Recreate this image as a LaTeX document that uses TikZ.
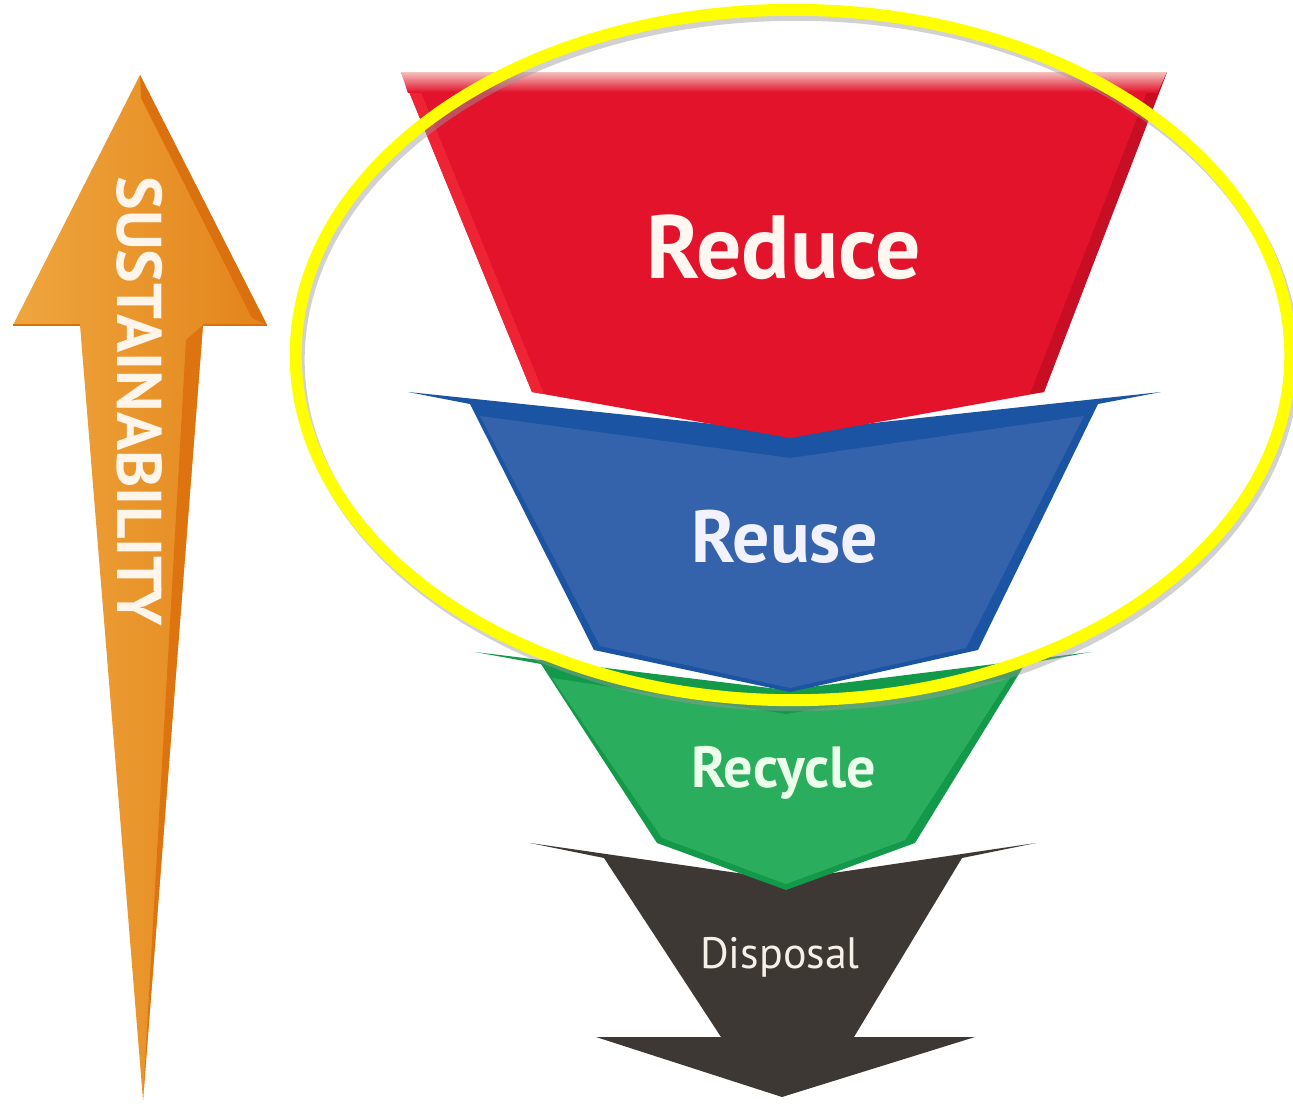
\documentclass[tikz,border=0pt]{standalone}
\usepackage{fontspec}
\setmainfont{PT Sans}
\begin{document}
\begin{tikzpicture}[x=0.01cm,y=-0.01cm,
  lbl/.style={inner sep=0pt, anchor=center}]
\definecolor{redmain}{HTML}{E3132C}
\definecolor{redlight}{HTML}{EE2435}
\definecolor{reddark}{HTML}{C70E24}
\definecolor{redpink}{HTML}{F6D2CC}
\definecolor{bluemain}{HTML}{3463AC}
\definecolor{bluedark}{HTML}{1B54A3}
\definecolor{greenmain}{HTML}{2BAD5E}
\definecolor{greendark}{HTML}{12994A}
\definecolor{graymain}{HTML}{3E3834}
\definecolor{oralight}{HTML}{EEA63E}
\definecolor{oradark}{HTML}{E3841A}
\definecolor{oradeep}{HTML}{DB700E}
\definecolor{ylw}{HTML}{FFFF00}
\useasboundingbox (0,0) rectangle (1293,1106);
\fill[white] (0,0) rectangle (1293,1106);

% --- Disposal (gray) ---
\fill[graymain] (530,843) -- (786,880) -- (1036,843) -- (962,858) -- (854,1037)
  -- (975,1037) -- (782,1097) -- (596,1037) -- (721,1037) -- (604,858) -- cycle;

% --- Recycle (green) ---
\fill[greendark] (475,652) -- (786,690) -- (1091,652) -- (1025,664) -- (915,843)
  -- (786,890) -- (657,843) -- (541,664) -- cycle;
\fill[greenmain] (552,678) -- (786,714) -- (1010,678) -- (905,840) -- (786,884)
  -- (662,838) -- cycle;

% --- Reuse (blue) ---
\fill[bluedark] (408,392) -- (790,432) -- (1161,392) -- (1098,404) -- (978,650)
  -- (790,692) -- (594,650) -- (470,404) -- cycle;
\fill[bluemain] (480,416) -- (790,458) -- (1084,416) -- (966,648) -- (790,688)
  -- (600,646) -- cycle;

% --- Reduce (red) ---
\fill[redmain] (401,72) -- (1167,72) -- (1044,392) -- (790,438) -- (532,392) -- cycle;
\fill[redlight] (401,72) -- (532,392) -- (544,394) -- (420,90) -- cycle;
\fill[reddark] (1167,72) -- (1044,392) -- (1030,394) -- (1148,90) -- cycle;
\begin{scope}
  \clip (401,72) -- (1167,72) -- (1140,130) -- (420,130) -- cycle;
  \shade[top color=redpink, bottom color=redmain] (390,70) rectangle (1180,92);
\end{scope}

% --- labels ---
\node[lbl, text=white!94!orange] (reduce) at (784,247)
  {\fontsize{25.5}{28}\selectfont\bfseries Reduce};
\node[lbl, text=white!95!blue] (reuse) at (785,537)
  {\fontsize{21}{24}\selectfont\bfseries Reuse};
\node[lbl, text=white!92!green] (recycle) at (784,773)
  {\fontsize{16.5}{19}\selectfont\bfseries Recycle};
\node[lbl, text=white!88!brown] (disposal) at (780,957)
  {\fontsize{12.5}{15}\selectfont Disposal};

% --- sustainability arrow ---
\shade[left color=oralight, right color=oradark] (140,75) -- (267,325) -- (203,325)
  -- (143,1100) -- (80,325) -- (13,325) -- cycle;
\fill[oradeep] (140,75) -- (267,325) -- (252,318) -- (141,98) -- cycle;
\fill[oradeep!80!oradark] (203,325) -- (143,1100) -- (186,340) -- cycle;
\draw[oradeep, line width=0.6pt] (13,325) -- (80,325) (203,325) -- (267,325);
\node[lbl, rotate=-90, text=white!92!orange] (sust) at (140,401)
  {\fontsize{18}{21}\selectfont\bfseries SUSTAINABILITY};

% --- highlight ellipse ---
\draw[black!40, opacity=0.45, line width=3.4pt] (796,360) ellipse [x radius=4.97cm, y radius=3.45cm];
\draw[ylw, line width=3.4pt] (793,355) ellipse [x radius=4.97cm, y radius=3.45cm];
\end{tikzpicture}
\end{document}
